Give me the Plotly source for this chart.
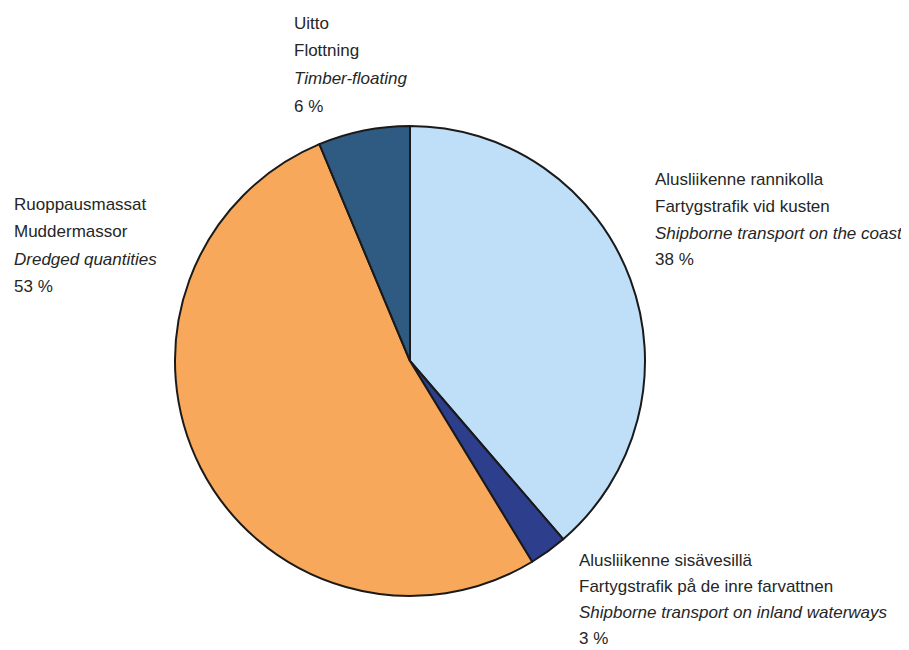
import plotly.graph_objects as go

# Slices, clockwise from 12 o'clock
categories = ["Alusliikenne rannikolla", "Alusliikenne sisävesillä", "Ruoppausmassat", "Uitto"]
shares = [38.7, 2.6, 52.4, 6.3]
colors = ["#BEDFF7", "#2C3E8C", "#F8A85A", "#2F5B82"]

# Label texts (Finnish / Swedish / English / percent)
label_fi = ["Alusliikenne rannikolla", "Alusliikenne sisävesillä", "Ruoppausmassat", "Uitto"]
label_sv = ["Fartygstrafik vid kusten", "Fartygstrafik på de inre farvattnen", "Muddermassor", "Flottning"]
label_en = ["Shipborne transport on the coast", "Shipborne transport on inland waterways",
            "Dredged quantities", "Timber-floating"]
label_pct = ["38 %", "3 %", "53 %", "6 %"]

W, H = 909, 650
OFF = 8  # page body margin offset
cx, cy, r = 410 - OFF, 361 - OFF, 235

fig = go.Figure(go.Pie(
    labels=categories,
    values=shares,
    sort=False,
    direction="clockwise",
    rotation=0,
    marker=dict(colors=colors, line=dict(color="#1a1a1a", width=2)),
    textinfo="none",
    hoverinfo="label+percent",
    showlegend=False,
    domain=dict(x=[(cx - r) / W, (cx + r) / W], y=[(H - cy - r) / H, (H - cy + r) / H]),
))

FONT = "Liberation Sans Narrow, Arial Narrow, Liberation Sans, Arial, sans-serif"
# label anchor: left x pixel, first-line baseline pixel, line spacing
anchors = [(653, 185, 27), (577, 566, 26), (12, 211, 27), (292, 29, 27.7)]

annotations = []
for i in range(4):
    x0, b0, sp = anchors[i]
    lines = [label_fi[i], label_sv[i], "<i>" + label_en[i] + "</i>", label_pct[i]]
    for j, t in enumerate(lines):
        base = b0 + j * sp
        annotations.append(dict(
            x=(x0 - OFF) / W, y=1 - (base - 6 - OFF) / H, xref="paper", yref="paper",
            xanchor="left", yanchor="middle", showarrow=False, align="left",
            text=t, font=dict(family=FONT, size=17, color="#262626"),
        ))

fig.update_layout(
    width=W, height=H,
    margin=dict(l=0, r=0, t=0, b=0),
    paper_bgcolor="white", plot_bgcolor="white",
    annotations=annotations,
)

fig.write_html("out.html")
